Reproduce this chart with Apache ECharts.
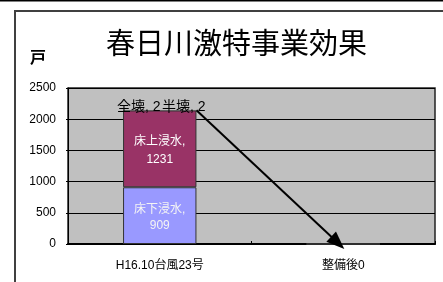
<!DOCTYPE html>
<html>
<head>
<meta charset="utf-8">
<script src="https://cdn.jsdelivr.net/npm/echarts@6/dist/echarts.min.js"></script>
<style>
  html, body { margin: 0; padding: 0; background: #fff; overflow: hidden; }
  #chart { width: 443px; height: 282px; }
</style>
</head>
<body>
<div id="chart"></div>
<script>
  // categories and stacked values (戸)
  var categories = ['H16.10台風23号', '整備後0'];
  var yukashita = [909, 0];   // 床下浸水
  var yukaue = [1231, 0];     // 床上浸水
  var zenkai = [2, 0];        // 全壊
  var hankai = [2, 0];        // 半壊
  var yTicks = [0, 500, 1000, 1500, 2000, 2500];

  // arrow annotation in data space (x in category units, y in 戸)
  var arrowFrom = [0.70, 2144];
  var arrowTo = [1.47, 20];

  var font = "'Liberation Sans', 'Noto Sans CJK JP', sans-serif";

  function hideZero(p) {
    return p.value ? p.seriesName + ',\n' + p.value : '';
  }
  function hideZeroOneLine(p) {
    return p.value ? p.seriesName + ', ' + p.value : '';
  }

  var chart = echarts.init(document.getElementById('chart'));
  chart.setOption({
    animation: false,
    textStyle: { fontFamily: font },
    title: {
      text: '春日川激特事業効果',
      left: 101,
      top: 26,
      textStyle: { fontSize: 29, fontWeight: 'normal', color: '#000', fontFamily: font }
    },
    graphic: [
      { type: 'rect', shape: { x: 0, y: 0, width: 443, height: 1.5 }, style: { fill: '#000' } },
      // frame: only top and left edges are visible in the crop
      { type: 'line', shape: { x1: 14, y1: 11, x2: 443, y2: 11 },
        style: { stroke: '#404040', lineWidth: 2 } },
      { type: 'line', shape: { x1: 15, y1: 10, x2: 15, y2: 282 },
        style: { stroke: '#404040', lineWidth: 2 } },
      { type: 'text', left: 30, top: 51,
        style: { text: '戸', fontSize: 16, fontWeight: 'bold', fill: '#000', fontFamily: font } }
    ],
    grid: {
      left: 68, right: 8, top: 88, bottom: 38,
      show: true,
      backgroundColor: '#C0C0C0',
      borderColor: '#222',
      borderWidth: 1.5
    },
    xAxis: [{
      type: 'category',
      data: categories,
      axisLine: { lineStyle: { color: '#000', width: 2 } },
      axisTick: { show: true, inside: true, length: 3, lineStyle: { color: '#000' } },
      axisLabel: { color: '#000', fontSize: 12, margin: 16, fontFamily: font }
    }, {
      type: 'value', min: 0, max: 2, show: false
    }],
    yAxis: {
      type: 'value',
      min: yTicks[0],
      max: yTicks[yTicks.length - 1],
      interval: 500,
      axisLine: { show: true, lineStyle: { color: '#000' } },
      axisTick: { show: true, length: 2, lineStyle: { color: '#000' } },
      axisLabel: { color: '#000', fontSize: 12, margin: 12, fontFamily: font,
        formatter: function (v) { return String(v); } },
      splitLine: { lineStyle: { color: '#000', width: 1 } }
    },
    series: [
      {
        name: '床下浸水', type: 'bar', stack: 'a', data: yukashita,
        barWidth: '40%',
        itemStyle: { color: '#9999FF', borderColor: '#333', borderWidth: 1 },
        label: { show: true, position: 'inside', formatter: hideZero, color: '#f4f4f4',
          fontSize: 12, lineHeight: 16, offset: [0, 2], fontFamily: font }
      },
      {
        name: '床上浸水', type: 'bar', stack: 'a', data: yukaue,
        itemStyle: { color: '#993366', borderColor: '#333', borderWidth: 1 },
        label: { show: true, position: 'inside', formatter: hideZero, color: '#fff',
          fontSize: 12, lineHeight: 18, offset: [0, 2], fontFamily: font }
      },
      {
        name: '全壊', type: 'bar', stack: 'a', data: zenkai,
        itemStyle: { color: '#333' },
        label: { show: true, position: 'inside', formatter: hideZeroOneLine, color: '#000',
          fontSize: 14, offset: [-21, -3], fontFamily: font }
      },
      {
        name: '半壊', type: 'bar', stack: 'a', data: hankai,
        itemStyle: { color: '#333' },
        label: { show: true, position: 'inside', formatter: hideZeroOneLine, color: '#000',
          fontSize: 14, offset: [24, -3], fontFamily: font }
      },
      {
        name: 'arrow', type: 'line', xAxisIndex: 1, data: [],
        markLine: {
          silent: true,
          symbol: ['none', 'triangle'],
          symbolSize: [14, 18],
          label: { show: false },
          lineStyle: { color: '#000', width: 2, type: 'solid' },
          data: [[{ coord: arrowFrom }, { coord: arrowTo }]]
        }
      }
    ]
  });
</script>
</body>
</html>
